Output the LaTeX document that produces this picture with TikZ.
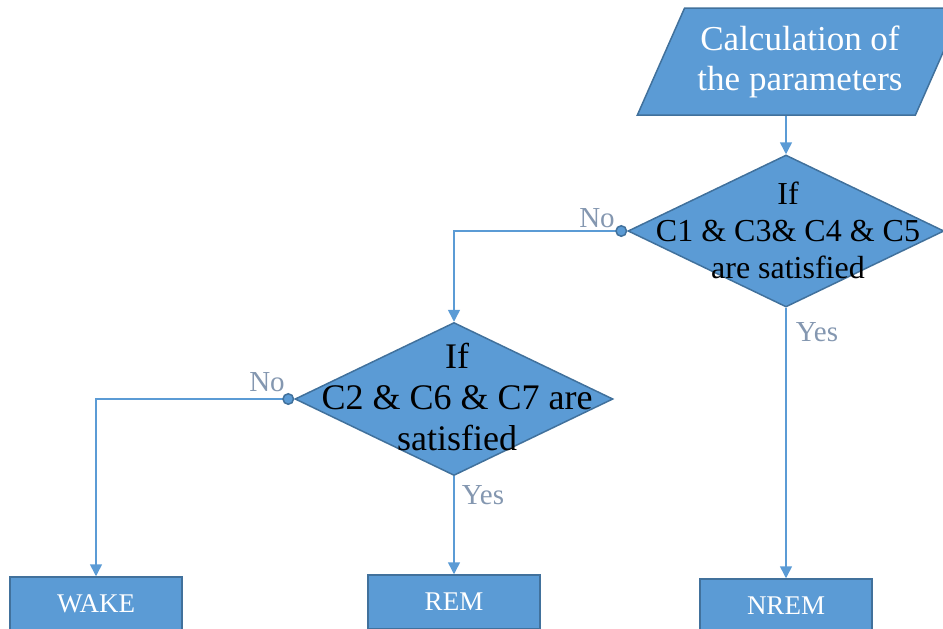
\documentclass[tikz,border=0pt]{standalone}
\usepackage{fontspec}
\setmainfont{Liberation Serif}
\usetikzlibrary{shapes.geometric,arrows.meta}

\begin{document}
\begin{tikzpicture}[x=0.5pt,y=-0.5pt,
    stagebox/.style={shape=rectangle,draw=sleep_edge,line width=0.75pt,fill=sleep_fill,text=white,minimum width=86pt,minimum height=27pt,font=\rmfamily\fontsize{13.5}{16}\selectfont},
    condbox/.style={shape=diamond,draw=sleep_edge,line width=0.75pt,fill=sleep_fill,inner sep=0pt,minimum width=158pt,minimum height=76pt},
    condtext/.style={align=center,text=black,inner sep=0pt},
    inputbox/.style={shape=trapezium,trapezium left angle=62.4,trapezium right angle=117.6,trapezium stretches=true,draw=sleep_edge,line width=0.75pt,fill=sleep_fill,text=white,align=center,minimum width=163pt,minimum height=53.5pt,font=\rmfamily\fontsize{17.5}{20}\selectfont},
    flow/.style={draw=sleep_line,line width=0.75pt,-{Triangle[length=6pt,width=6pt]}},
    branch/.style={text=sleep_label,inner sep=0pt,font=\rmfamily\fontsize{14.5}{17}\selectfont}]
    \definecolor{sleep_fill}{RGB}{91,155,213}
    \definecolor{sleep_edge}{RGB}{65,113,156}
    \definecolor{sleep_line}{RGB}{91,155,213}
    \definecolor{sleep_label}{RGB}{132,151,176}
    \useasboundingbox (0,0) rectangle (943,628);
    \node[inputbox] (calc) at (800,61.5) {Calculation of\\the parameters};
    \node[condbox] (dec1) at (786,231) {};
    \node[condtext,font=\rmfamily\fontsize{16}{18.5}\selectfont] (dec1txt) at (788,230) {If\\C1 \& C3\& C4 \& C5\\are satisfied};
    \node[condbox,minimum width=159pt,minimum height=76.5pt] (dec2) at (454,399) {};
    \node[condtext,font=\rmfamily\fontsize{18}{20.5}\selectfont] (dec2txt) at (457,397) {If\\C2 \& C6 \& C7 are\\satisfied};
    \node[stagebox] (wake) at (96,604) {WAKE};
    \node[stagebox] (rem) at (454,602) {REM};
    \node[stagebox] (nrem) at (786,606) {NREM};
    \draw[flow] (calc.south -| dec1.north) -- (dec1.north);
    \draw[flow,{Circle[length=6pt,fill=sleep_fill,color=sleep_edge]}-{Triangle[length=6pt,width=6pt]}] (dec1.west) -| (dec2.north);
    \draw[flow] (dec1.south) -- (nrem.north);
    \draw[flow,{Circle[length=6pt,fill=sleep_fill,color=sleep_edge]}-{Triangle[length=6pt,width=6pt]}] (dec2.west) -| (wake.north);
    \draw[flow] (dec2.south) -- (rem.north);
    \node[branch] (no1) at (597,218) {No};
    \node[branch] (yes1) at (817,332) {Yes};
    \node[branch] (no2) at (267,382) {No};
    \node[branch] (yes2) at (483,495) {Yes};
\end{tikzpicture}
\end{document}
